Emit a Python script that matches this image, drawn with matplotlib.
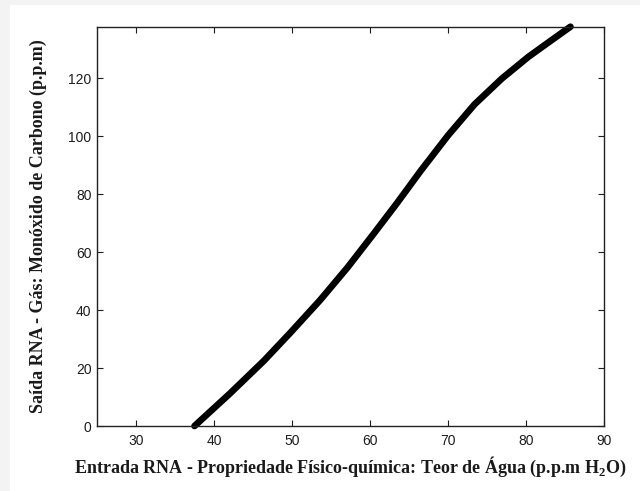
import matplotlib
matplotlib.use("Agg")
import matplotlib.pyplot as plt
from matplotlib.patches import Rectangle

# water content (input) vs. carbon monoxide (output) along the network response
teor_agua = [37.5, 42.0, 46.4, 49.8, 53.6, 57.1, 60.5, 63.5, 66.5, 70.0,
             73.4, 76.9, 80.3, 83.3, 85.7]
monoxido = [0.0, 11.1, 22.5, 32.2, 43.4, 54.6, 66.4, 77.0, 88.0, 100.2,
            110.9, 119.8, 127.3, 133.1, 137.7]

xticks = [30, 40, 50, 60, 70, 80, 90]
yticks = [0, 20, 40, 60, 80, 100, 120]

plt.rcParams["font.family"] = ["Liberation Sans", "DejaVu Sans"]
plt.rcParams["mathtext.fontset"] = "custom"
plt.rcParams["mathtext.rm"] = "Liberation Serif:bold"

fig = plt.figure(figsize=(6.4, 4.91), dpi=100)
fig.patch.set_facecolor("#f3f3f3")
fig.patches.append(Rectangle((10 / 640, 0), 1, 1 - 5 / 491, transform=fig.transFigure,
                             facecolor="white", edgecolor="none", zorder=-10))

ax = fig.add_axes([97 / 640, 1 - 426 / 491, 507 / 640, 399 / 491])
ax.set_zorder(1)
ax.plot(teor_agua, monoxido, color="black", lw=4.8, solid_capstyle="round",
        solid_joinstyle="round", clip_on=False)

ax.set_xlim(25, 90)
ax.set_ylim(0, 137.6)
ax.set_xticks(xticks)
ax.set_yticks(yticks)
ax.tick_params(direction="in", length=4, width=0.8, top=True, right=True,
               labelsize=10, colors="#1e1e1e")
ax.tick_params(axis="x", pad=6)
ax.tick_params(axis="y", pad=4)
for s in ax.spines.values():
    s.set_linewidth(1.0)
    s.set_color("#222222")

serif = dict(family=["Liberation Serif", "DejaVu Serif"], weight="bold",
             size=13, color="#1a1a1a")
ax.set_xlabel("Entrada RNA - Propriedade Físico-química: Teor de Água (p.p.m H$_{\\mathregular{2}}$O)",
              labelpad=5, **serif)
ax.set_ylabel("Saída RNA - Gás: Monóxido de Carbono (p.p.m)", labelpad=15, **serif)

fig.savefig("out.png", dpi=100, facecolor=fig.get_facecolor())
